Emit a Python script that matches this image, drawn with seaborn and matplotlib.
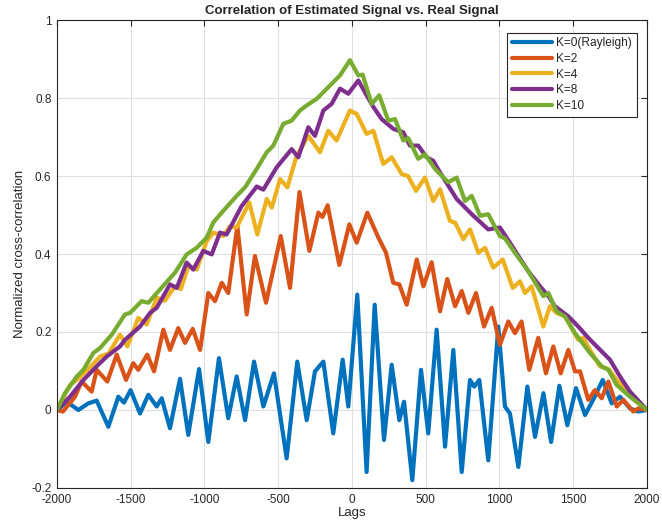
import pandas as pd
import seaborn as sns
import matplotlib.pyplot as plt

# values (lag, normalized correlation)
lags_k0 = [-2000, -1934, -1855, -1788, -1731, -1652, -1584, -1546, -1501, -1437, -1381, -1324, -1290,
           -1234, -1166, -1110, -1037, -974, -902, -839, -782, -725, -664, -601, -529, -443, -371, -307,
           -251, -194, -127, -63, -25, 36, 99, 154, 217, 269, 321, 353, 409, 468, 517, 574, 631, 687,
           744, 800, 829, 863, 924, 992, 1037, 1071, 1128, 1189, 1241, 1298, 1350, 1406, 1460, 1519,
           1580, 1640, 1700, 1761, 1817, 1885, 1941, 2000]
corr_k0 = [0.0, 0.021, 0.0, 0.017, 0.024, -0.043, 0.034, 0.019, 0.051, -0.009, 0.039, 0.009, 0.030,
           -0.047, 0.080, -0.064, 0.105, -0.082, 0.133, -0.021, 0.086, -0.026, 0.124, 0.009, 0.094,
           -0.124, 0.124, -0.026, 0.099, 0.124, -0.060, 0.129, 0.009, 0.296, -0.159, 0.270, -0.077,
           0.116, -0.026, 0.021, -0.180, 0.103, -0.060, 0.206, -0.094, 0.154, -0.159, 0.077, 0.060,
           0.077, -0.129, 0.214, 0.009, -0.009, -0.146, 0.060, -0.069, 0.043, -0.082, 0.062, -0.039,
           0.056, -0.013, 0.030, 0.077, 0.017, 0.034, 0.004, -0.004, 0.0]

lags_k2 = [-2000, -1960, -1878, -1833, -1765, -1731, -1659, -1595, -1532, -1483, -1449, -1388, -1342,
           -1279, -1234, -1178, -1132, -1080, -1030, -974, -929, -883, -839, -777, -714, -658, -583,
           -483, -420, -356, -289, -228, -200, -165, -86, -18, 32, 104, 179, 230, 280, 321, 371, 439,
           484, 540, 597, 646, 699, 744, 789, 841, 895, 947, 1003, 1060, 1105, 1150, 1202, 1263, 1315,
           1365, 1415, 1467, 1512, 1546, 1602, 1647, 1693, 1738, 1795, 1840, 1907, 1941, 2000]
corr_k2 = [0.0, -0.004, 0.034, 0.073, 0.047, 0.103, 0.073, 0.142, 0.077, 0.120, 0.103, 0.142, 0.099,
           0.206, 0.154, 0.210, 0.172, 0.208, 0.154, 0.300, 0.279, 0.326, 0.300, 0.472, 0.245, 0.395,
           0.275, 0.446, 0.313, 0.559, 0.408, 0.506, 0.495, 0.525, 0.372, 0.476, 0.429, 0.506, 0.442,
           0.404, 0.326, 0.322, 0.270, 0.386, 0.317, 0.379, 0.253, 0.336, 0.266, 0.305, 0.249, 0.300,
           0.214, 0.262, 0.167, 0.227, 0.197, 0.227, 0.103, 0.185, 0.094, 0.163, 0.094, 0.154, 0.099,
           0.099, 0.026, 0.051, 0.030, 0.073, 0.009, 0.026, -0.004, 0.004, 0.0]

lags_k4 = [-2000, -1912, -1866, -1800, -1708, -1650, -1573, -1523, -1449, -1392, -1324, -1270, -1200,
           -1160, -1110, -1053, -985, -940, -872, -830, -782, -696, -642, -578, -544, -488, -438, -375,
           -296, -217, -161, -104, -14, 32, 99, 145, 212, 269, 337, 380, 434, 495, 551, 597, 664, 700,
           755, 800, 857, 902, 958, 1022, 1090, 1139, 1173, 1218, 1297, 1342, 1387, 1444, 1534, 1568,
           1614, 1681, 1740, 1795, 1885, 2000]
corr_k4 = [0.0, 0.064, 0.077, 0.100, 0.137, 0.145, 0.193, 0.163, 0.236, 0.219, 0.288, 0.280, 0.317,
           0.310, 0.369, 0.360, 0.433, 0.455, 0.446, 0.470, 0.468, 0.532, 0.450, 0.541, 0.519, 0.592,
           0.571, 0.652, 0.703, 0.661, 0.716, 0.691, 0.768, 0.759, 0.708, 0.716, 0.631, 0.648, 0.605,
           0.600, 0.562, 0.596, 0.536, 0.566, 0.485, 0.480, 0.438, 0.463, 0.403, 0.416, 0.365, 0.386,
           0.313, 0.330, 0.300, 0.317, 0.214, 0.266, 0.249, 0.240, 0.180, 0.185, 0.154, 0.112, 0.105,
           0.077, 0.043, 0.0]

lags_k8 = [-2000, -1912, -1821, -1731, -1663, -1573, -1539, -1437, -1369, -1324, -1234, -1188, -1121,
           -1076, -1008, -951, -895, -850, -748, -646, -601, -511, -409, -364, -296, -251, -194, -138,
           -81, -25, 43, 99, 145, 201, 280, 348, 393, 449, 506, 551, 597, 710, 812, 924, 1003, 1071,
           1128, 1195, 1275, 1332, 1376, 1467, 1534, 1602, 1704, 1749, 1817, 1885, 2000]
corr_k8 = [0.0, 0.034, 0.077, 0.112, 0.137, 0.163, 0.180, 0.214, 0.249, 0.262, 0.322, 0.313, 0.378,
           0.360, 0.408, 0.399, 0.455, 0.450, 0.523, 0.573, 0.565, 0.622, 0.669, 0.648, 0.725, 0.703,
           0.768, 0.785, 0.824, 0.811, 0.845, 0.807, 0.777, 0.746, 0.721, 0.712, 0.678, 0.678, 0.648,
           0.639, 0.609, 0.541, 0.502, 0.463, 0.468, 0.429, 0.395, 0.356, 0.317, 0.292, 0.266, 0.240,
           0.214, 0.185, 0.146, 0.129, 0.086, 0.047, 0.0]

lags_k10 = [-2000, -1946, -1866, -1821, -1754, -1708, -1629, -1539, -1505, -1426, -1381, -1302, -1200,
            -1121, -1053, -985, -940, -872, -782, -725, -646, -578, -533, -465, -409, -353, -307, -239,
            -81, -14, 43, 72, 134, 185, 246, 292, 348, 382, 449, 495, 563, 653, 710, 766, 812, 868,
            924, 1003, 1037, 1105, 1195, 1297, 1332, 1387, 1444, 1512, 1614, 1693, 1738, 1795, 1885,
            2000]
corr_k10 = [0.0, 0.043, 0.086, 0.103, 0.146, 0.159, 0.193, 0.245, 0.249, 0.279, 0.275, 0.309, 0.352,
            0.399, 0.416, 0.442, 0.481, 0.511, 0.549, 0.571, 0.618, 0.661, 0.678, 0.734, 0.742, 0.768,
            0.781, 0.798, 0.858, 0.897, 0.858, 0.860, 0.785, 0.807, 0.742, 0.746, 0.691, 0.697, 0.644,
            0.656, 0.618, 0.584, 0.596, 0.536, 0.549, 0.498, 0.502, 0.446, 0.440, 0.403, 0.356, 0.292,
            0.300, 0.253, 0.240, 0.197, 0.146, 0.112, 0.103, 0.064, 0.034, 0.0]

labels = ['K=0(Rayleigh)', 'K=2', 'K=4', 'K=8', 'K=10']
colors = ['#0072BD', '#D95319', '#EDB120', '#7E2F8E', '#77AC30']

series = [(lags_k0, corr_k0), (lags_k2, corr_k2), (lags_k4, corr_k4),
          (lags_k8, corr_k8), (lags_k10, corr_k10)]
frames = []
for lab, (lx, cy) in zip(labels, series):
    frames.append(pd.DataFrame({'lag': lx, 'corr': cy, 'K': lab}))
df = pd.concat(frames, ignore_index=True)

sns.set_style('white')
plt.rcParams['font.family'] = ['Liberation Sans', 'DejaVu Sans']
plt.rcParams['axes.unicode_minus'] = False

fig = plt.figure(figsize=(6.62, 5.31), dpi=100)
ax = fig.add_axes([0.0861, 0.081, 0.8912, 0.8813])

sns.lineplot(data=df, x='lag', y='corr', hue='K', hue_order=labels,
             palette=colors, linewidth=3.0, sort=True, estimator=None, ax=ax,
             solid_joinstyle='round', solid_capstyle='round')

ax.set_xlim(-2000, 2000)
ax.set_ylim(-0.2, 1.0)
ax.set_xticks(range(-2000, 2001, 500))
ax.set_yticks([-0.2, 0, 0.2, 0.4, 0.6, 0.8, 1.0])
ax.set_yticklabels(['-0.2', '0', '0.2', '0.4', '0.6', '0.8', '1'])
ax.grid(True, color='#dfdfdf', linewidth=0.8)
ax.tick_params(direction='in', top=True, right=True, labelsize=8.5, length=4,
               color='#262626', width=0.8, pad=4)
for s in ax.spines.values():
    s.set_color('#262626')
    s.set_linewidth(0.8)

ax.set_title('Correlation of Estimated Signal vs. Real Signal', fontsize=9.5,
             fontweight='bold', pad=4)
ax.set_xlabel('Lags', fontsize=9.5, labelpad=1)
ax.set_ylabel('Normalized cross-correlation', fontsize=9.5, labelpad=4)

leg = ax.legend(loc='upper right', bbox_to_anchor=(0.983, 0.973), borderaxespad=0,
                fontsize=8.6, frameon=True, fancybox=False, edgecolor='#262626',
                framealpha=1, handlelength=3.4, handletextpad=0.35,
                labelspacing=0.3, borderpad=0.4)
leg.get_frame().set_linewidth(0.8)
for line in leg.get_lines():
    line.set_linewidth(3.0)

plt.savefig('out.png', dpi=100)
